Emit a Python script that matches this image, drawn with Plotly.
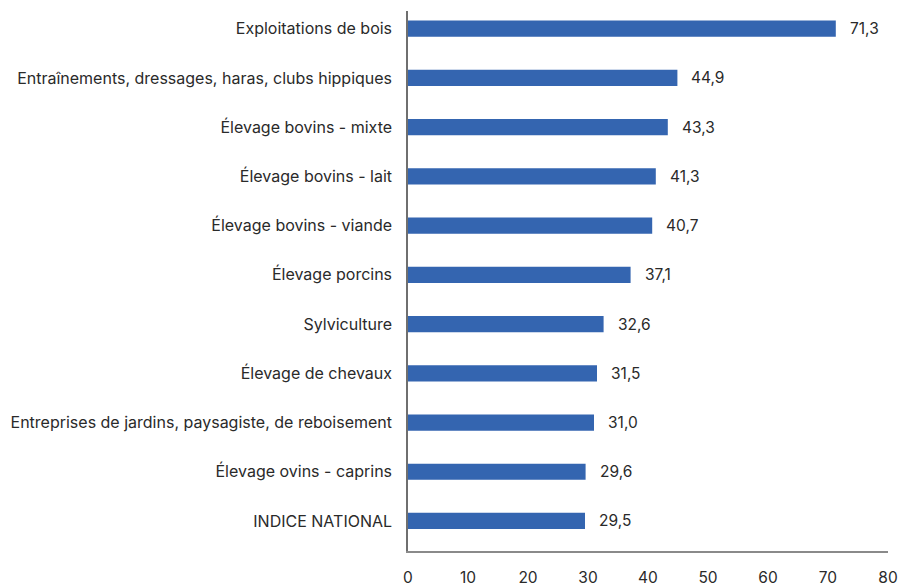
import plotly.graph_objects as go

categories = [
    "Exploitations de bois",
    "Entraînements, dressages, haras, clubs hippiques",
    "Élevage bovins - mixte",
    "Élevage bovins - lait",
    "Élevage bovins - viande",
    "Élevage porcins",
    "Sylviculture",
    "Élevage de chevaux",
    "Entreprises de jardins, paysagiste, de reboisement",
    "Élevage ovins - caprins",
    "INDICE NATIONAL",
]
values = [71.3, 44.9, 43.3, 41.3, 40.7, 37.1, 32.6, 31.5, 31.0, 29.6, 29.5]
x_ticks = [0, 10, 20, 30, 40, 50, 60, 70, 80]

FONT = "Inter"
TEXT_COLOR = "#2a2a2a"
BAR_COLOR = "#3465b0"
FONT_SIZE = 15.5
LABEL_SIZE = 16

fig = go.Figure(
    go.Bar(
        x=values,
        y=categories,
        orientation="h",
        marker=dict(color=BAR_COLOR, line=dict(width=0)),
        width=0.33,
        hoverinfo="skip",
    )
)

# value labels placed just right of each bar end
for cat, v in zip(categories, values):
    fig.add_annotation(
        x=v,
        y=cat,
        text=f"{v:.1f}".replace(".", ","),
        showarrow=False,
        xanchor="left",
        yanchor="middle",
        xshift=12,
        font=dict(family=FONT, size=FONT_SIZE, color=TEXT_COLOR),
    )

fig.update_layout(
    width=913,
    height=587,
    margin=dict(l=408, r=25, t=11, b=36),
    paper_bgcolor="white",
    plot_bgcolor="white",
    separators=", ",
    showlegend=False,
    font=dict(family=FONT, size=FONT_SIZE, color=TEXT_COLOR),
)

fig.update_xaxes(
    range=[0, 80],
    tickvals=x_ticks,
    ticktext=[str(t) for t in x_ticks],
    showgrid=False,
    zeroline=False,
    showline=True,
    linecolor="#8a8a8a",
    linewidth=1.5,
    ticks="",
    ticklabelstandoff=12,
    automargin=False,
    tickfont=dict(family=FONT, size=FONT_SIZE, color=TEXT_COLOR),
)

fig.update_yaxes(
    type="category",
    categoryorder="array",
    categoryarray=categories,
    range=[10.61, -0.36],
    showgrid=False,
    zeroline=False,
    showline=True,
    linecolor="#6f6f6f",
    linewidth=1.5,
    ticks="",
    ticklabelstandoff=11,
    automargin=False,
    tickfont=dict(family=FONT, size=LABEL_SIZE, color=TEXT_COLOR),
)

fig.write_html("out.html")
